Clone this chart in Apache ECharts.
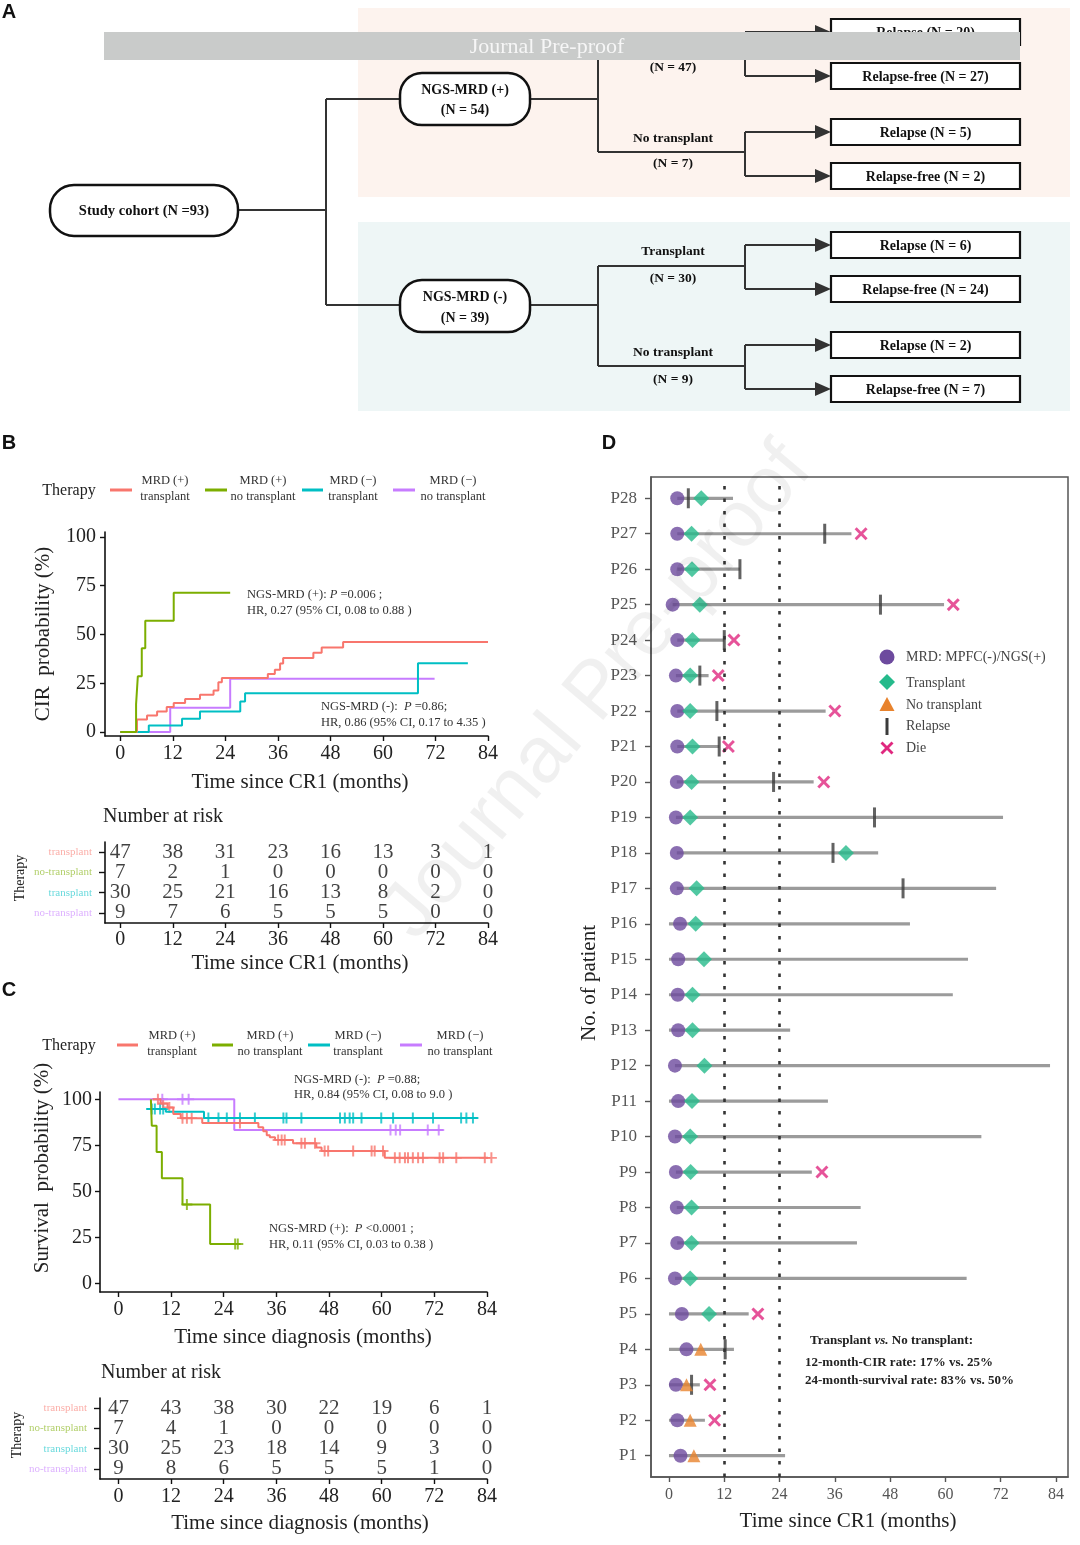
<!DOCTYPE html>
<html><head><meta charset="utf-8">
<script src="https://cdn.jsdelivr.net/npm/echarts@6/dist/echarts.min.js"></script>
<style>html,body{margin:0;padding:0;background:#fff}#c{width:1080px;height:1545px}</style>
</head><body><div id="c"></div>
<script>
// ===== DATA =====
const monthTicks = [0, 12, 24, 36, 48, 60, 72, 84];
const pctTicks = [0, 25, 50, 75, 100];
const groupColors = ['#F8766D', '#7CAE00', '#00BFC4', '#C77CFF'];
const groupLegend = [['MRD (+)', 'transplant'], ['MRD (+)', 'no transplant'], ['MRD (\u2212)', 'transplant'], ['MRD (\u2212)', 'no transplant']];
const riskRowLabels = ['transplant', 'no-transplant', 'transplant', 'no-transplant'];

// Panel B: CIR step curves (months, %)
const cirT_posTx   = [0, 3.8, 6.1, 8.4, 10.6, 12.2, 14.8, 18.2, 21.3, 22.4, 23.2, 33.7, 35.3, 36.5, 37.2, 44.1, 46.0, 50.9, 84];
const cirV_posTx   = [0, 6.4, 8.5, 10.6, 12.8, 14.9, 17.0, 19.1, 21.3, 25.5, 27.7, 29.8, 31.9, 35.1, 37.9, 40.7, 43.3, 46.2, 46.2];
const cirT_posNoTx = [0, 3.6, 4.0, 4.9, 5.7, 12.2, 25.1];
const cirV_posNoTx = [0, 14.3, 28.6, 42.9, 57.1, 71.4, 71.4];
const cirT_negTx   = [0, 6.5, 14.1, 18.2, 27.4, 28.5, 68.0, 79.4];
const cirV_negTx   = [0, 3.4, 6.9, 10.5, 15.7, 19.9, 35.3, 35.3];
const cirT_negNoTx = [0, 11.4, 25.1, 71.8];
const cirV_negNoTx = [0, 12.5, 27.3, 27.3];

const riskB_posTx   = [47, 38, 31, 23, 16, 13, 3, 1];
const riskB_posNoTx = [7, 2, 1, 0, 0, 0, 0, 0];
const riskB_negTx   = [30, 25, 21, 16, 13, 8, 2, 0];
const riskB_negNoTx = [9, 7, 6, 5, 5, 5, 0, 0];

// Panel C: survival step curves (months, %) and censor times
const survT_posTx   = [7.8, 9.6, 11.2, 12.5, 14.2, 19.1, 31.9, 33.0, 33.8, 34.5, 35.7, 39.8, 45.1, 46.3, 60.7, 86.5];
const survV_posTx   = [100, 97.8, 95.6, 92.0, 89.8, 87.2, 84.9, 82.7, 80.5, 79.4, 77.9, 76.1, 73.8, 71.9, 68.2, 68.2];
const censT_posTx   = [9.0, 10.2, 11.6, 14.6, 15.6, 16.7, 27.7, 36.4, 37.2, 37.9, 41.7, 42.5, 44.8, 47.0, 47.8, 53.5, 57.7, 58.4, 60.3, 63.0, 64.1, 65.3, 66.0, 67.1, 68.3, 69.4, 73.2, 74.0, 77.0, 83.5, 85.0];
const survT_posNoTx = [7.4, 7.6, 8.7, 9.9, 14.6, 20.9, 27.7];
const survV_posNoTx = [100, 85.7, 71.4, 57.1, 42.9, 21.4, 21.4];
const censT_posNoTx = [15.6, 26.6, 27.2];
const survT_negTx   = [6.4, 10.8, 19.5, 81.9];
const survV_negTx   = [94.8, 93.2, 89.9, 89.9];
const censT_negTx   = [7.6, 8.3, 9.5, 10.2, 20.5, 22.8, 24.7, 27.7, 31.1, 37.6, 38.3, 41.7, 50.5, 51.6, 52.7, 53.5, 55.4, 59.9, 62.6, 67.1, 71.7, 78.1, 79.3, 80.8];
const survT_negNoTx = [0, 26.4, 74.0];
const survV_negNoTx = [100, 83.3, 83.3];
const censT_negNoTx = [10.0, 14.6, 16.0, 62.0, 63.2, 64.2, 70.5, 73.0];

const riskC_posTx   = [47, 43, 38, 30, 22, 19, 6, 1];
const riskC_posNoTx = [7, 4, 1, 0, 0, 0, 0, 0];
const riskC_negTx   = [30, 25, 23, 18, 14, 9, 3, 0];
const riskC_negNoTx = [9, 8, 6, 5, 5, 5, 1, 0];

// Panel D: swimmer plot, index 0 = P1
const patientNames = ['P1','P2','P3','P4','P5','P6','P7','P8','P9','P10','P11','P12','P13','P14','P15','P16','P17','P18','P19','P20','P21','P22','P23','P24','P25','P26','P27','P28'];
const lineStart   = [0, 0, 0, 0, 0, 1.3, 1.8, 1.7, 1.5, 1.3, 0, 1.3, 0, 0, 0, 0, 1.7, 1.7, 1.5, 1.7, 1.8, 1.8, 1.5, 1.8, 0.8, 1.8, 1.8, 1.8];
const lineEnd     = [25.2, 7.8, 6.7, 14.1, 17.3, 64.6, 40.8, 41.6, 31.0, 67.8, 34.5, 82.7, 26.3, 61.6, 64.9, 52.3, 71.0, 45.4, 72.5, 31.4, 10.9, 34.0, 8.6, 12.0, 59.7, 15.4, 39.6, 13.9];
const mrdTime     = [2.5, 1.8, 1.5, 3.8, 2.8, 1.3, 1.8, 1.7, 1.5, 1.3, 2.0, 1.3, 2.0, 1.9, 2.0, 2.4, 1.7, 1.7, 1.5, 1.7, 1.8, 1.8, 1.5, 1.8, 0.8, 1.8, 1.8, 1.8];
const txTime      = [null, null, null, null, 8.7, 4.6, 4.9, 4.9, 4.7, 4.6, 5.0, 7.7, 5.1, 5.1, 7.6, 5.8, 6.0, 38.4, 4.6, 4.9, 5.1, 4.6, 4.6, 5.1, 6.7, 5.0, 4.9, 7.0];
const noTxTime    = [5.4, 4.6, 3.8, 6.9, null, null, null, null, null, null, null, null, null, null, null, null, null, null, null, null, null, null, null, null, null, null, null, null];
const relapseTime = [null, null, 4.9, 12.2, null, null, null, null, null, null, null, null, null, null, null, null, 50.8, 35.6, 44.6, 22.7, 10.9, 10.4, 6.7, 12.0, 45.9, 15.4, 33.8, 4.2];
const dieTime     = [null, 9.9, 8.9, null, 19.3, null, null, null, 33.2, null, null, null, null, null, null, null, null, null, null, 33.6, 12.9, 36.0, 10.7, 14.1, 61.7, null, 41.7, null];
const landmarkMonths = [12, 24];

// Panel A labels
const flowOutcomes = ['Relapse (N = 20)', 'Relapse-free (N = 27)', 'Relapse (N = 5)', 'Relapse-free (N = 2)', 'Relapse (N = 6)', 'Relapse-free (N = 24)', 'Relapse (N = 2)', 'Relapse-free (N = 7)'];

// ===== HELPERS =====
const SERIF = '"Liberation Serif", "Times New Roman", serif';
const SANS = '"Liberation Sans", Arial, sans-serif';
const G = [];
function T(x, y, text, size, o) {
  o = o || {};
  const st = {text: text, x: 0, y: 0, align: o.align || 'center', verticalAlign: o.va || 'middle',
    fill: o.color || '#222', fontSize: size, fontFamily: o.family || SERIF,
    fontWeight: o.weight || 'normal', fontStyle: o.fstyle || 'normal'};
  if (o.rich) st.rich = o.rich;
  G.push({type: 'text', x: x, y: y, rotation: o.rot || 0, z: o.z || 10, silent: true, style: st});
}
function L(x1, y1, x2, y2, o) {
  o = o || {};
  G.push({type: 'line', z: o.z || 5, silent: true, shape: {x1, y1, x2, y2}, style: {stroke: o.color || '#333', lineWidth: o.w || 2}});
}
function R(x, y, w, h, o) {
  o = o || {};
  G.push({type: 'rect', z: o.z || 4, silent: true, shape: {x, y, width: w, height: h, r: o.r || 0},
    style: {fill: o.fill || 'none', stroke: o.stroke || null, lineWidth: o.w || 0}});
}
function P(points, fill, z) { G.push({type: 'polygon', z: z || 6, silent: true, shape: {points: points}, style: {fill: fill}}); }
function zip(a, b) { return a.map((v, i) => [v, b[i]]); }
function stepAt(T_, V_, t) { let v = V_[0]; for (let i = 0; i < T_.length; i++) if (T_[i] <= t) v = V_[i]; return v; }
function riskData(rows) { const d = []; rows.forEach((r, ri) => r.forEach((v, j) => d.push([monthTicks[j], ri + 1, v]))); return d; }
function pts(arr) { const d = []; arr.forEach((t, i) => { if (t !== null) d.push([t, i + 1]); }); return d; }

// ===== PANEL A (flowchart) =====
R(358, 8, 712, 189, {fill: '#FDF3EE', z: 1});
R(358, 222, 712, 189, {fill: '#EEF6F6', z: 1});
R(50, 185, 188, 51, {fill: '#fff', stroke: '#111', w: 2.5, r: 24, z: 6});
T(144, 211, 'Study cohort (N =93)', 14.5, {weight: 'bold', color: '#111'});
R(400, 73, 130, 52, {fill: '#fff', stroke: '#111', w: 2.5, r: 22, z: 6});
T(465, 90, 'NGS-MRD (+)', 14, {weight: 'bold', color: '#111'});
T(465, 110, '(N = 54)', 14, {weight: 'bold', color: '#111'});
R(400, 280, 130, 52, {fill: '#fff', stroke: '#111', w: 2.5, r: 22, z: 6});
T(465, 297, 'NGS-MRD (-)', 14, {weight: 'bold', color: '#111'});
T(465, 318, '(N = 39)', 14, {weight: 'bold', color: '#111'});
L(238, 210, 326, 210); L(326, 99, 326, 305); L(326, 99, 400, 99); L(326, 305, 400, 305);
L(530, 99, 598, 99); L(598, 52, 598, 152); L(598, 52, 745, 52); L(598, 152, 745, 152);
L(530, 305, 598, 305); L(598, 266, 598, 366); L(598, 266, 745, 266); L(598, 366, 745, 366);
L(745, 32, 745, 76); L(745, 132, 745, 176); L(745, 245, 745, 289); L(745, 345, 745, 389);
T(673, 42, 'Transplant', 13.5, {weight: 'bold', color: '#111'});
T(673, 68, '(N = 47)', 13.5, {weight: 'bold', color: '#111'});
T(673, 139, 'No transplant', 13.5, {weight: 'bold', color: '#111'});
T(673, 164, '(N = 7)', 13.5, {weight: 'bold', color: '#111'});
T(673, 252, 'Transplant', 13.5, {weight: 'bold', color: '#111'});
T(673, 279, '(N = 30)', 13.5, {weight: 'bold', color: '#111'});
T(673, 353, 'No transplant', 13.5, {weight: 'bold', color: '#111'});
T(673, 380, '(N = 9)', 13.5, {weight: 'bold', color: '#111'});
[32, 76, 132, 176, 245, 289, 345, 389].forEach((y, i) => {
  L(745, y, 818, y);
  P([[815, y - 7], [831, y], [815, y + 7]], '#333');
  R(831, y - 13, 189, 26, {fill: '#fff', stroke: '#111', w: 2.2, z: 6});
  T(925.5, y + 1, flowOutcomes[i], 14, {weight: 'bold', color: '#111', z: 7});
});
R(104, 32, 916, 28, {fill: '#C9CBCA', z: 50});
T(547, 47, 'Journal Pre-proof', 22, {color: '#F6F6F6', z: 51});

// panel letters
T(9, 12, 'A', 20, {family: SANS, weight: 'bold', color: '#111'});
T(9, 443, 'B', 20, {family: SANS, weight: 'bold', color: '#111'});
T(9, 990, 'C', 20, {family: SANS, weight: 'bold', color: '#111'});
T(609, 443, 'D', 20, {family: SANS, weight: 'bold', color: '#111'});

// ===== legends for B and C =====
function groupLegendAt(yc, therapyX, items) {
  T(therapyX, yc + 1, 'Therapy', 16, {color: '#222'});
  items.forEach((it, i) => {
    L(it[0], yc, it[1], yc, {color: groupColors[i], w: 3});
    T(it[2], yc - 9, groupLegend[i][0], 12.5, {color: '#333'});
    T(it[2], yc + 7, groupLegend[i][1], 12.5, {color: '#333'});
  });
}
groupLegendAt(490, 69, [[110, 132, 165], [205, 227, 263], [302, 323, 353], [393, 415, 453]]);
groupLegendAt(1045, 69, [[117, 138, 172], [212, 233, 270], [308, 330, 358], [400, 422, 460]]);

const annRich = {a: {fontSize: 12.5, fontFamily: SERIF, fill: '#333'}, i: {fontSize: 12.5, fontFamily: SERIF, fontStyle: 'italic', fill: '#333'}};
function ann(x, y, text) { T(x, y, text, 12.5, {align: 'left', color: '#333', rich: annRich}); }
ann(247, 595, '{a|NGS-MRD (+): }{i|P}{a| =0.006 ;}');
ann(247, 611, '{a|HR, 0.27 (95% CI, 0.08 to 0.88 )}');
ann(321, 707, '{a|NGS-MRD (-):  }{i|P}{a| =0.86;}');
ann(321, 723, '{a|HR, 0.86 (95% CI, 0.17 to 4.35 )}');
ann(294, 1080, '{a|NGS-MRD (-):  }{i|P}{a| =0.88;}');
ann(294, 1095, '{a|HR, 0.84 (95% CI, 0.08 to 9.0 )}');
ann(269, 1229, '{a|NGS-MRD (+):  }{i|P}{a| <0.0001 ;}');
ann(269, 1245, '{a|HR, 0.11 (95% CI, 0.03 to 0.38 )}');

// axis titles
const RV = Math.PI / 2;
T(43, 634, 'CIR  probability (%)', 21, {rot: RV});
T(300, 782, 'Time since CR1 (months)', 21);
T(103, 817, 'Number at risk', 20, {align: 'left'});
T(20, 878, 'Therapy', 14, {rot: RV});
T(300, 963, 'Time since CR1 (months)', 21);
T(42, 1168, 'Survival  probability (%)', 21, {rot: RV});
T(303, 1337, 'Time since diagnosis (months)', 21);
T(101, 1373, 'Number at risk', 20, {align: 'left'});
T(17, 1435, 'Therapy', 14, {rot: RV});
T(300, 1523, 'Time since diagnosis (months)', 21);
T(589, 983, 'No. of patient', 21, {rot: RV});
T(848, 1521, 'Time since CR1 (months)', 21);

// panel D annotation
const boldRich = {a: {fontSize: 13, fontFamily: SERIF, fontWeight: 'bold', fill: '#222'}, i: {fontSize: 13, fontFamily: SERIF, fontWeight: 'bold', fontStyle: 'italic', fill: '#222'}};
T(810, 1341, '{a|Transplant }{i|vs.}{a| No transplant:}', 13, {align: 'left', rich: boldRich});
T(805, 1363, '12-month-CIR rate: 17% vs. 25%', 13, {align: 'left', weight: 'bold', color: '#222'});
T(805, 1381, '24-month-survival rate: 83% vs. 50%', 13, {align: 'left', weight: 'bold', color: '#222'});

// panel D legend
const cPurple = '#6D4A9E', cGreen = '#25BA8B', cOrange = '#E8832D', cRelapse = '#3b3b3b', cDie = '#E0287F';
G.push({type: 'circle', z: 6, silent: true, shape: {cx: 887, cy: 657, r: 7.5}, style: {fill: cPurple}});
P([[887, 674], [895, 682], [887, 690], [879, 682]], cGreen);
P([[887, 697], [894.5, 711], [879.5, 711]], cOrange);
R(885.5, 718, 3, 17, {fill: cRelapse, z: 6});
L(881.5, 742.5, 892.5, 753.5, {color: cDie, w: 2.8, z: 6}); L(892.5, 742.5, 881.5, 753.5, {color: cDie, w: 2.8, z: 6});
[['MRD: MPFC(-)/NGS(+)', 657], ['Transplant', 683], ['No transplant', 705], ['Relapse', 726], ['Die', 748]].forEach(a => T(906, a[1], a[0], 14, {align: 'left', color: '#444'}));

// watermark
T(598, 692, 'Journal Pre-proof', 80, {family: SANS, rot: 0.87, color: 'rgba(0,0,0,0.06)', z: 60});

// ===== AXES =====
function xAx(gi, min, max, margin, opts) {
  opts = opts || {};
  return {type: 'value', gridIndex: gi, min: min, max: max, splitLine: {show: false},
    axisLine: {show: true, onZero: false, lineStyle: {color: opts.color || '#111', width: 1.6}},
    axisTick: {show: true, customValues: monthTicks, length: 5, lineStyle: {color: opts.color || '#111', width: 1.4}},
    axisLabel: {customValues: monthTicks, margin: margin, fontSize: opts.size || 20, color: opts.lcolor || '#222', fontFamily: SERIF}};
}
function yPct(gi, min, max, margin) {
  return {type: 'value', gridIndex: gi, min: min, max: max, splitLine: {show: false},
    axisLine: {show: true, onZero: false, lineStyle: {color: '#111', width: 1.6}},
    axisTick: {show: true, customValues: pctTicks, length: 5, lineStyle: {color: '#111', width: 1.4}},
    axisLabel: {customValues: pctTicks, margin: margin, fontSize: 20, color: '#222', fontFamily: SERIF}};
}
const rowRich = {
  r0: {color: 'rgba(248,118,109,0.6)', fontSize: 11, fontFamily: SERIF},
  r1: {color: 'rgba(124,174,0,0.6)', fontSize: 11, fontFamily: SERIF},
  r2: {color: 'rgba(0,191,196,0.6)', fontSize: 11, fontFamily: SERIF},
  r3: {color: 'rgba(199,124,255,0.6)', fontSize: 11, fontFamily: SERIF}
};
function yRisk(gi, margin) {
  return {type: 'value', gridIndex: gi, min: 0.5, max: 4.5, inverse: true, splitLine: {show: false},
    axisLine: {show: true, onZero: false, lineStyle: {color: '#111', width: 1.6}},
    axisTick: {show: true, customValues: [1, 2, 3, 4], length: 6, lineStyle: {color: '#111', width: 1.4}},
    axisLabel: {customValues: [1, 2, 3, 4], margin: margin, rich: rowRich,
      formatter: v => '{r' + (v - 1) + '|' + riskRowLabels[v - 1] + '}'}};
}
const pIdx = patientNames.map((n, i) => i + 1);

const xAxes = [
  xAx(0, -3.5, 84, 8), xAx(1, -3.5, 84, 7), xAx(2, -4.2, 84, 8), xAx(3, -4.2, 84, 8),
  xAx(4, -3.9, 86.6, 10, {color: '#555', lcolor: '#555', size: 16})
];
const yAxes = [
  yPct(0, -2, 102.5, 9), yRisk(1, 13), yPct(2, -4.7, 104, 8), yRisk(3, 13),
  {type: 'value', gridIndex: 4, min: 0.4, max: 28.6, splitLine: {show: false},
    axisLine: {show: true, onZero: false, lineStyle: {color: '#555', width: 1.5}},
    axisTick: {show: true, customValues: pIdx, length: 6, lineStyle: {color: '#555', width: 1.4}},
    axisLabel: {customValues: pIdx, margin: 14, fontSize: 17, color: '#555', fontFamily: SERIF, formatter: v => patientNames[v - 1]}}
];

// ===== SERIES =====
const series = [];
const cirSets = [[cirT_posTx, cirV_posTx], [cirT_posNoTx, cirV_posNoTx], [cirT_negTx, cirV_negTx], [cirT_negNoTx, cirV_negNoTx]];
const survSets = [[survT_posTx, survV_posTx, censT_posTx], [survT_posNoTx, survV_posNoTx, censT_posNoTx], [survT_negTx, survV_negTx, censT_negTx], [survT_negNoTx, survV_negNoTx, censT_negNoTx]];
[3, 2, 0, 1].forEach(g => {
  series.push({type: 'line', xAxisIndex: 0, yAxisIndex: 0, step: 'end', showSymbol: false, symbol: 'none',
    data: zip(cirSets[g][0], cirSets[g][1]), lineStyle: {color: groupColors[g], width: 2}, itemStyle: {color: groupColors[g]}});
});
const plusPath = 'path://M4.1,0h1.8v4.1h4.1v1.8h-4.1v4.1h-1.8v-4.1h-4.1v-1.8h4.1z';
[3, 2, 0, 1].forEach(g => {
  const s = survSets[g];
  series.push({type: 'line', xAxisIndex: 2, yAxisIndex: 2, step: 'end', showSymbol: false, symbol: 'none', clip: false,
    data: zip(s[0], s[1]), lineStyle: {color: groupColors[g], width: 2}, itemStyle: {color: groupColors[g]}});
  series.push({type: 'scatter', xAxisIndex: 2, yAxisIndex: 2, symbol: plusPath, symbolSize: 11, clip: false,
    data: s[2].map(t => [t, stepAt(s[0], s[1], t)]), itemStyle: {color: groupColors[g]}});
});
const riskLabel = {show: true, position: 'inside', formatter: p => String(p.value[2]), fontSize: 21, color: '#111', fontFamily: SERIF};
series.push({type: 'scatter', xAxisIndex: 1, yAxisIndex: 1, symbolSize: 1, itemStyle: {color: 'transparent'}, label: riskLabel,
  data: riskData([riskB_posTx, riskB_posNoTx, riskB_negTx, riskB_negNoTx])});
series.push({type: 'scatter', xAxisIndex: 3, yAxisIndex: 3, symbolSize: 1, itemStyle: {color: 'transparent'}, label: riskLabel,
  data: riskData([riskC_posTx, riskC_posNoTx, riskC_negTx, riskC_negNoTx])});

// Panel D
series.push({type: 'custom', xAxisIndex: 4, yAxisIndex: 4, encode: {x: [0, 1], y: 2},
  data: lineStart.map((s, i) => [s, lineEnd[i], i + 1]),
  renderItem: (params, api) => {
    const a = api.coord([api.value(0), api.value(2)]);
    const b = api.coord([api.value(1), api.value(2)]);
    return {type: 'line', shape: {x1: a[0], y1: a[1], x2: b[0], y2: b[1]}, style: {stroke: '#9b9b9b', lineWidth: 3.2}};
  },
  markLine: {silent: true, symbol: ['none', 'none'], label: {show: false},
    lineStyle: {color: '#333', type: [3.5, 9], width: 2.6},
    data: landmarkMonths.map(m => ({xAxis: m}))}
});
series.push({type: 'scatter', xAxisIndex: 4, yAxisIndex: 4, symbol: 'rect', symbolSize: [3, 20], itemStyle: {color: cRelapse}, data: pts(relapseTime), z: 3});
series.push({type: 'scatter', xAxisIndex: 4, yAxisIndex: 4, symbol: 'circle', symbolSize: 14, itemStyle: {color: cPurple}, data: pts(mrdTime), z: 4});
series.push({type: 'scatter', xAxisIndex: 4, yAxisIndex: 4, symbol: 'diamond', symbolSize: 16, itemStyle: {color: cGreen}, data: pts(txTime), z: 4});
series.push({type: 'scatter', xAxisIndex: 4, yAxisIndex: 4, symbol: 'triangle', symbolSize: 13, itemStyle: {color: cOrange}, data: pts(noTxTime), z: 4});
series.push({type: 'scatter', xAxisIndex: 4, yAxisIndex: 4,
  symbol: 'path://M0,1.6L1.6,0L5,3.4L8.4,0L10,1.6L6.6,5L10,8.4L8.4,10L5,6.6L1.6,10L0,8.4L3.4,5Z',
  symbolSize: 13, itemStyle: {color: cDie}, data: pts(dieTime), z: 4});

const chart = echarts.init(document.getElementById('c'));
chart.setOption({
  animation: false,
  backgroundColor: '#fff',
  grid: [
    {left: 105, top: 532, width: 383, height: 204},
    {left: 105, top: 842, width: 383, height: 81},
    {left: 100, top: 1092, width: 387, height: 200},
    {left: 100, top: 1398, width: 387, height: 81},
    {left: 651, top: 477, width: 417, height: 1000, show: true, borderColor: '#555', borderWidth: 1.5}
  ],
  xAxis: xAxes,
  yAxis: yAxes,
  series: series,
  graphic: {elements: G}
});
</script>
</body></html>
